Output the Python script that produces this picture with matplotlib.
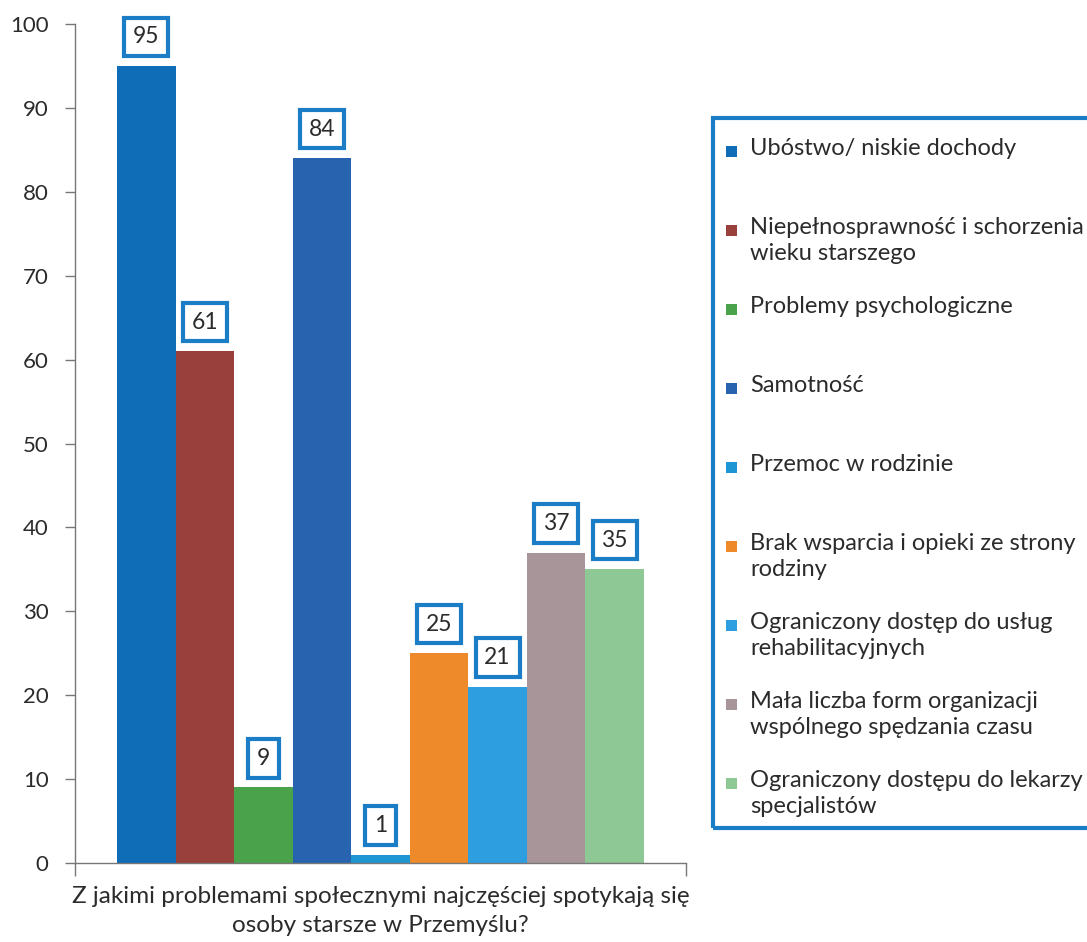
import matplotlib
matplotlib.use("Agg")
import matplotlib.pyplot as plt
from matplotlib.patches import Rectangle

plt.rcParams['font.family'] = ['Lato', 'DejaVu Sans']

categories = [
    "Ubóstwo/ niskie dochody",
    "Niepełnosprawność i schorzenia\nwieku starszego",
    "Problemy psychologiczne",
    "Samotność",
    "Przemoc w rodzinie",
    "Brak wsparcia i opieki ze strony\nrodziny",
    "Ograniczony dostęp do usług\nrehabilitacyjnych",
    "Mała liczba form organizacji\nwspólnego spędzania czasu",
    "Ograniczony dostępu do lekarzy\nspecjalistów",
]
values = [95, 61, 9, 84, 1, 25, 21, 37, 35]
colors = ["#0f6db8", "#9a403c", "#4aa34a", "#2863b0", "#1f96d4",
          "#ee8a2a", "#2d9ee0", "#a8959a", "#8ec894"]
yticks = [0, 10, 20, 30, 40, 50, 60, 70, 80, 90, 100]
xlabel = "Z jakimi problemami społecznymi najczęściej spotykają się\nosoby starsze w Przemyślu?"

W, H = 1087, 942
fig = plt.figure(figsize=(W / 100, H / 100), dpi=100)
fig.patch.set_facecolor("white")

ax_l, ax_r, ax_b, ax_t = 75, 686, 863, 24
ax = fig.add_axes([ax_l / W, 1 - ax_b / H, (ax_r - ax_l) / W, (ax_b - ax_t) / H])

text_col = "#2b2b2b"
xs = list(range(len(values)))
ax.bar(xs, values, width=1.0, color=colors, edgecolor="none", zorder=2)
ax.set_xlim(-1.22, len(values) - 1 + 1.22)
ax.set_ylim(0, 100)
ax.set_yticks(yticks)
ax.tick_params(axis="y", labelsize=16, colors="#777777", labelcolor=text_col,
               length=7, width=1, direction="out", pad=12)
ax.set_xticks(ax.get_xlim())
ax.set_xticklabels([])
ax.tick_params(axis="x", length=9, width=1, colors="#777777", direction="out")
for s in ["top", "right"]:
    ax.spines[s].set_visible(False)
for s in ["left", "bottom"]:
    ax.spines[s].set_color("#777777")
    ax.spines[s].set_linewidth(1)

for x, v in zip(xs, values):
    ax.annotate(str(v), xy=(x, v), xytext=(0, 21), textcoords="offset points",
                ha="center", va="center", fontsize=16.5, color=text_col, zorder=5,
                bbox=dict(boxstyle="square,pad=0.38", fc="white", ec="#1a7dc6", lw=3))

fig.text((ax_l + ax_r) / 2 / W, 1 - 886 / H, xlabel, ha="center", va="top",
         fontsize=17.5, color=text_col, linespacing=1.45)

# Legend (drawn manually to match the uneven entry layout)
box_l, box_t, box_b = 713, 118, 828
fig.patches.append(Rectangle((box_l / W, 1 - box_b / H), (W + 20 - box_l) / W,
                             (box_b - box_t) / H, transform=fig.transFigure,
                             fc="none", ec="#1a7dc6", lw=3, clip_on=False))
first_y = 151
step = 79
sq = 11
for i, (lab, c) in enumerate(zip(categories, colors)):
    yc = first_y + i * step
    fig.patches.append(Rectangle((726 / W, 1 - (yc + sq / 2) / H), sq / W, sq / H,
                                 transform=fig.transFigure, fc=c, ec="none"))
    fig.text(750 / W, 1 - (yc - 13) / H, lab, ha="left", va="top", fontsize=17,
             color=text_col, linespacing=1.3)

fig.savefig("out.png", dpi=100)
